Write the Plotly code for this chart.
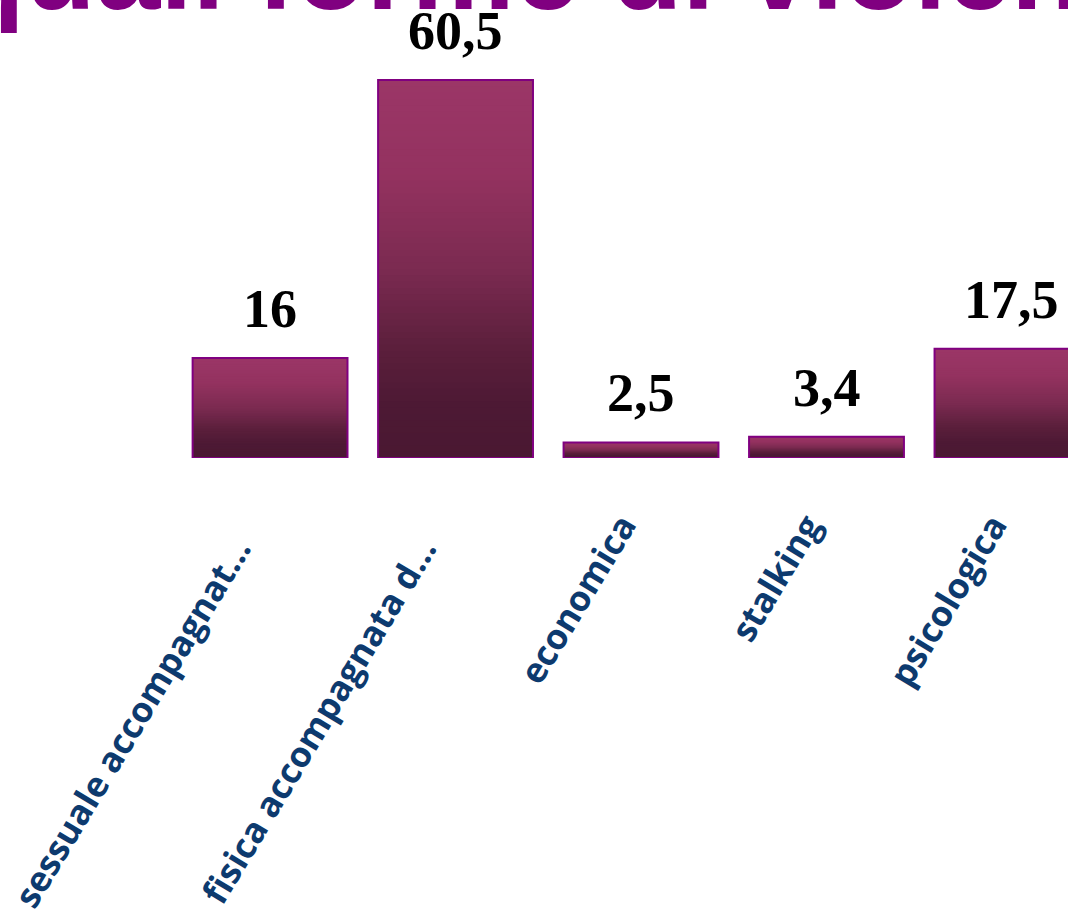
import plotly.graph_objects as go

categories = ["sessuale accompagnat…", "fisica accompagnata d…", "economica", "stalking", "psicologica"]
values = [16, 60.5, 2.5, 3.4, 17.5]
title_text = "quali forme di violenza"

# gradient stops, from top of bar (0) to bottom (1)
grad_stops = [(0.0, (155, 54, 103)), (0.25, (147, 50, 95)), (0.5, (122, 42, 80)),
              (0.7, (92, 31, 60)), (0.85, (77, 25, 52)), (1.0, (74, 24, 50))]

def grad_color(t):
    for (t0, c0), (t1, c1) in zip(grad_stops[:-1], grad_stops[1:]):
        if t0 <= t <= t1:
            f = (t - t0) / (t1 - t0) if t1 > t0 else 0
            c = [round(a + (b - a) * f) for a, b in zip(c0, c1)]
            return "rgb(%d,%d,%d)" % tuple(c)
    return "rgb(%d,%d,%d)" % grad_stops[-1][1]

def fmt(v):
    return (str(int(v)) if float(v).is_integer() else str(v)).replace(".", ",")

def pad_label(c):
    n = 7 if c.endswith("…") else 4
    return c + "\u00a0" * n

tick_text = [pad_label(c) for c in categories]

fig = go.Figure()
N = 60
for i in range(N):
    frac = 1 - i / N
    fig.add_trace(go.Bar(
        x=categories, y=[v * frac for v in values], base=0,
        marker=dict(color=grad_color(i / N), line=dict(width=0)),
        hoverinfo="skip", showlegend=False))
# outline
fig.add_trace(go.Bar(
    x=categories, y=values,
    marker=dict(color="rgba(0,0,0,0)", line=dict(color="#800080", width=2)),
    showlegend=False))

for c, v in zip(categories, values):
    fig.add_annotation(x=c, y=v, xref="x", yref="y", text="<b>%s</b>" % fmt(v),
                       showarrow=False, yanchor="bottom", yshift=17,
                       font=dict(family="Liberation Serif", size=54, color="#000000"))

fig.add_annotation(x=-48 / 1068, y=1, xref="paper", yref="paper", xanchor="left", yanchor="bottom",
                   yshift=-36, showarrow=False, text="<b>%s</b>" % title_text,
                   font=dict(family="Liberation Sans", size=116, color="#800080"))

fig.update_layout(
    width=1068, height=915, autosize=False,
    margin=dict(l=0, r=0, t=0, b=457, pad=0),
    barmode="overlay", bargap=0.165,
    plot_bgcolor="white", paper_bgcolor="white",
    xaxis=dict(type="category", range=[-1.456, 4.302], showgrid=False, showline=False,
               zeroline=False, ticks="", tickangle=-59, automargin=False,
               tickmode="array", tickvals=categories, ticktext=tick_text,
               ticklabelstandoff=8,
               tickfont=dict(family="Open Sans", size=35, color="#0d3a6e", weight=700)),
    yaxis=dict(visible=False, range=[0, 73.3], showgrid=False, zeroline=False),
)

fig.write_html("out.html", config={"displayModeBar": False},
               post_script="document.body.style.margin='0';")
